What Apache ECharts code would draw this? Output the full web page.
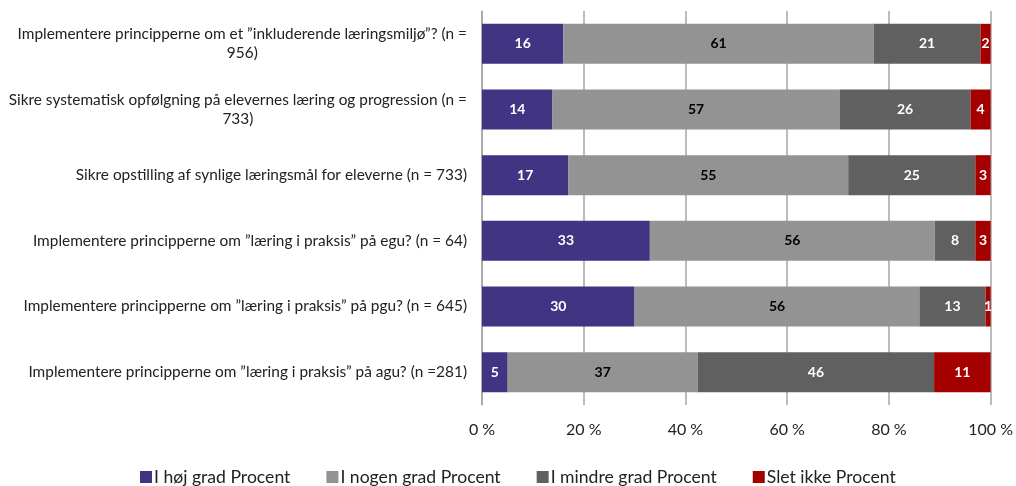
<!DOCTYPE html>
<html><head><meta charset="utf-8">
<script src="https://cdn.jsdelivr.net/npm/echarts@6/dist/echarts.min.js"></script>
<style>html,body{margin:0;padding:0;background:#fff}#c{width:1016px;height:486px}</style>
</head><body><div id="c"></div>
<script>
const categories = [
  'Implementere principperne om et ”inkluderende læringsmiljø”? (n = 956)',
  'Sikre systematisk opfølgning på elevernes læring og progression (n = 733)',
  'Sikre opstilling af synlige læringsmål for eleverne (n = 733)',
  'Implementere principperne om ”læring i praksis” på egu? (n = 64)',
  'Implementere principperne om ”læring i praksis” på pgu? (n = 645)',
  'Implementere principperne om ”læring i praksis” på agu? (n =281)'
];
const seriesNames = ['I høj grad Procent', 'I nogen grad Procent', 'I mindre grad Procent', 'Slet ikke Procent'];
const hoej = [16, 14, 17, 33, 30, 5];
const nogen = [61, 57, 55, 56, 56, 37];
const mindre = [21, 26, 25, 8, 13, 46];
const slet = [2, 4, 3, 3, 1, 11];
const xTicks = ['0 %', '20 %', '40 %', '60 %', '80 %', '100 %'];

const colors = ['#413483', '#939393', '#606060', '#a50000'];
const labelColors = ['#ffffff', '#000000', '#ffffff', '#ffffff'];
const FONT = 'Lato';
const CAT_SIZE = 15.4;
const WRAP = 470;

const all = [hoej, nogen, mindre, slet];
const totals = categories.map((_, i) => all.reduce((s, a) => s + a[i], 0));

const ctx = document.createElement('canvas').getContext('2d');
ctx.font = CAT_SIZE + 'px ' + FONT;
function wrap(text) {
  const words = text.split(' ');
  const lines = [];
  let cur = '';
  for (const w of words) {
    const t = cur ? cur + ' ' + w : w;
    if (cur && ctx.measureText(t).width > WRAP) { lines.push(cur); cur = w; }
    else cur = t;
  }
  if (cur) lines.push(cur);
  return lines.map(l => '{c|' + l + '}').join('\n');
}

const series = all.map((arr, k) => ({
  name: seriesNames[k],
  type: 'bar',
  stack: 'total',
  barWidth: 40,
  itemStyle: { color: colors[k] },
  label: {
    show: true,
    position: 'inside',
    color: labelColors[k],
    fontFamily: FONT,
    fontSize: 14,
    fontWeight: 'bold',
    formatter: p => String(arr[p.dataIndex])
  },
  emphasis: { disabled: true },
  data: arr.map((v, i) => v / totals[i] * 100)
}));

function draw() {
  const chart = echarts.init(document.getElementById('c'), null, { renderer: 'canvas' });
  chart.setOption({
    animation: false,
    textStyle: { fontFamily: FONT },
    grid: { left: 482, right: 25, top: 11, bottom: 81, containLabel: false },
    xAxis: {
      type: 'value', min: 0, max: 100, interval: 20,
      axisLine: { show: false },
      axisTick: { show: false },
      splitLine: { show: true, lineStyle: { color: '#a6a6a6', width: 1.5 } },
      axisLabel: {
        color: '#222', fontFamily: FONT, fontSize: 16, margin: 17,
        formatter: (v) => xTicks[Math.round(v / 20)]
      }
    },
    yAxis: {
      type: 'category', inverse: true, data: categories,
      axisLine: { show: true, lineStyle: { color: '#a6a6a6', width: 1.5 } },
      axisTick: { show: false },
      axisLabel: {
        margin: 15, color: '#222', fontFamily: FONT, fontSize: CAT_SIZE, lineHeight: 19,
        formatter: v => wrap(v),
        rich: { c: { align: 'center', fontFamily: FONT, fontSize: CAT_SIZE, color: '#222', lineHeight: 19 } }
      }
    },
    legend: {
      bottom: 0, left: 140, padding: 0,
      icon: 'rect', itemWidth: 12, itemHeight: 12, itemGap: 36,
      textStyle: { fontFamily: FONT, fontSize: 17.6, color: '#222', padding: [0, 0, 0, -3] },
      data: seriesNames
    },
    series
  });
}
if (document.fonts && document.fonts.load) {
  document.fonts.load(CAT_SIZE + 'px ' + FONT).then(() => { ctx.font = CAT_SIZE + 'px ' + FONT; draw(); }, draw);
} else draw();
</script>
</body></html>
